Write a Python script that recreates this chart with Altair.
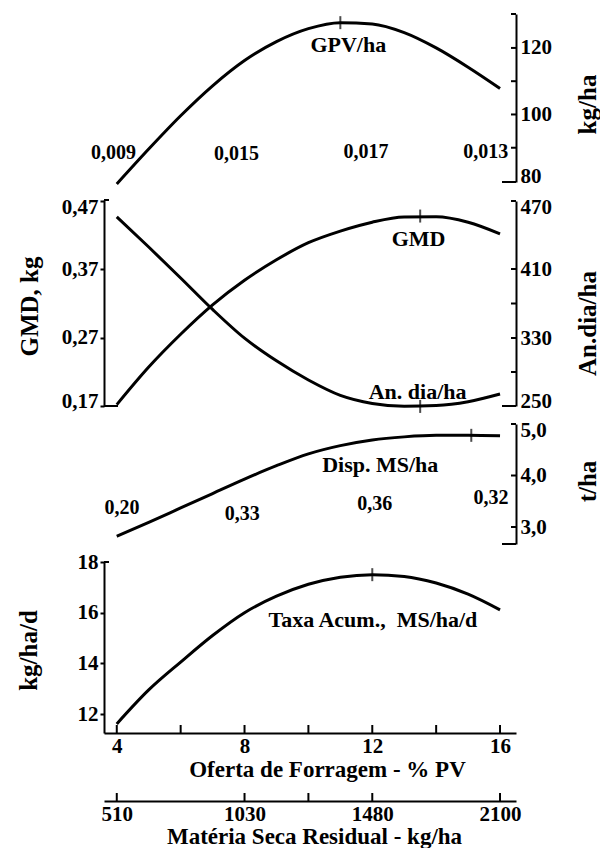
import altair as alt
import pandas as pd

# ---------------- values ----------------
OFERTA = [4, 5, 6, 7, 8, 9, 10, 11, 12, 13, 14, 15, 16]
GPV_HA = [79.1, 89.6, 99.6, 108.6, 116.2, 121.9, 125.8, 127.6, 127.2, 124.6, 120.0, 114.2, 107.8]
GMD_KG = [0.172, 0.227, 0.275, 0.318, 0.354, 0.384, 0.409, 0.426, 0.439, 0.4465, 0.447, 0.439, 0.422]
AN_DIA_HA = [456, 429.4, 399.6, 363.1, 329.8, 303.1, 280.6, 262.5, 253.0, 249.7, 250.6, 255.1, 264.1]
DISP_MS = [2.82, 3.09, 3.37, 3.65, 3.93, 4.19, 4.42, 4.58, 4.69, 4.75, 4.78, 4.78, 4.77]
TAXA_ACUM = [11.61, 12.95, 14.05, 15.1, 16.0, 16.65, 17.12, 17.40, 17.50, 17.43, 17.17, 16.73, 16.11]

# marked optimum of each curve (x, y)
GPV_OPT = (11.0, 127.6)
GMD_OPT = (13.5, 0.448)
AN_OPT = (13.5, 249.5)
DISP_OPT = (15.1, 4.78)
TAXA_OPT = (12.0, 17.50)

# ratio labels printed under the curves
GPV_RATIO = ["0,009", "0,015", "0,017", "0,013"]
GPV_RATIO_X = [3.9, 7.75, 11.8, 15.55]
GPV_RATIO_Y = [88.4, 88.2, 88.7, 88.7]
DISP_RATIO = ["0,20", "0,33", "0,36", "0,32"]
DISP_RATIO_X = [4.16, 7.93, 12.08, 15.72]
DISP_RATIO_Y = [3.37, 3.26, 3.45, 3.56]

# axes
OFERTA_TICKS = [4, 8, 12, 16]
OFERTA_MINOR = [4, 6, 8, 10, 12, 14, 16]
MS_RESIDUAL = [510, 1030, 1480, 2100]
MS_TICKS_AT = [4, 8, 10, 12, 16]
GPV_AXIS = [80, 100, 120]
GPV_TICKS = [90, 100, 110, 120]
GMD_AXIS = [0.17, 0.27, 0.37, 0.47]
AN_AXIS = [250, 330, 410, 470]
AN_TICKS = [290, 330, 370, 410]
DISP_AXIS = [3.0, 4.0, 5.0]
DISP_TICKS = [3.0, 4.0]
TAXA_AXIS = [12, 14, 16, 18]

# ---------------- layout ----------------
FONT = "Liberation Serif"
W = 412
XDOM = [3.6, 16.5]
UNIT = W / (XDOM[1] - XDOM[0])
XS = alt.Scale(domain=XDOM, nice=False, zero=False)
H1, H2, H3, H4 = 168, 206, 120, 171

S1 = alt.Scale(domain=[79.7, 130.2], nice=False, zero=False)
S2L = alt.Scale(domain=[0.17, 0.4715], nice=False, zero=False)
S2R = alt.Scale(domain=AN_AXIS, range=[206, 138, 69, 1], nice=False, zero=False)
S3 = alt.Scale(domain=[2.67, 5.0], nice=False, zero=False)
S4 = alt.Scale(domain=[11.25, 18.0], nice=False, zero=False)

R_IN = XDOM[1] - 5 / UNIT
R_LONG = XDOM[1] - 14 / UNIT
L_IN = XDOM[0] + 5 / UNIT
L_LONG = XDOM[0] + 14 / UNIT

X_NONE = alt.X("x:Q", scale=XS, axis=None)


def ychan(scale, axis=None):
    # secondary layers leave the axis to the primary layer (axis=None would drop the shared axis)
    if axis is None:
        return alt.Y("y:Q", scale=scale)
    return alt.Y("y:Q", scale=scale, axis=axis)


def curve(xs, ys, scale, axis=None):
    df = pd.DataFrame({"x": xs, "y": ys})
    return alt.Chart(df).mark_line(color="black", strokeWidth=3, interpolate="monotone").encode(
        x=X_NONE, y=ychan(scale, axis))


def texts(xs, ys, labels, scale, size=22):
    df = pd.DataFrame({"x": xs, "y": ys, "t": labels})
    return alt.Chart(df).mark_text(font=FONT, fontWeight="bold", fontSize=size, color="black").encode(
        x=X_NONE, y=ychan(scale), text="t:N")


def opt_mark(pt, scale):
    df = pd.DataFrame({"x": [pt[0]], "y": [pt[1]]})
    return alt.Chart(df).mark_tick(orient="vertical", size=13, thickness=2, color="black").encode(
        x=X_NONE, y=ychan(scale))


def segments(x1, x2, ys, scale):
    df = pd.DataFrame({"x": x1, "x2": x2, "y": ys})
    return alt.Chart(df).mark_rule(color="black", strokeWidth=2).encode(
        x=X_NONE, x2="x2:Q", y=ychan(scale))


def right_marks(ticks, top, bottom, scale):
    x1 = [R_IN] * len(ticks) + [R_IN, R_LONG]
    x2 = [XDOM[1]] * (len(ticks) + 2)
    return segments(x1, x2, list(ticks) + [top, bottom], scale)


def yaxis(orient, values, title, tx, ty, expr=None, flush=2):
    kw = dict(orient=orient, values=values, title=title, grid=False,
              ticks=(orient == "left"), tickSize=4,
              labelPadding=(2 if orient == "left" else 4),
              labelFlush=flush, labelFlushOffset=5,
              titleAngle=270, titleX=tx, titleY=ty, titleAlign="center", titleBaseline="middle")
    if expr:
        kw["labelExpr"] = expr
    return alt.Axis(**kw)


# ---------- panel 1 : GPV/ha ----------
p1 = alt.layer(
    curve(OFERTA, GPV_HA, S1, yaxis("right", GPV_AXIS, "kg/ha", 71, 90)),
    opt_mark(GPV_OPT, S1),
    texts(GPV_RATIO_X, GPV_RATIO_Y, GPV_RATIO, S1, size=20),
    texts([11.25], [121.0], ["GPV/ha"], S1),
    right_marks(GPV_TICKS, 130.2, 79.7, S1),
).properties(width=W, height=H1)

# ---------- panel 2 : GMD and An.dia/ha ----------
gmd_group = alt.layer(
    curve(OFERTA, GMD_KG, S2L, yaxis("left", GMD_AXIS, "GMD, kg", -75, 106,
                                     "replace(format(datum.value, '.2f'), '.', ',')")),
    opt_mark(GMD_OPT, S2L),
    texts([13.45, 13.42], [0.4137, 0.1898], ["GMD", "An. dia/ha"], S2L),
    segments([XDOM[0], XDOM[0]], [L_IN, L_LONG], [0.4715, 0.17], S2L),
)
an_group = alt.layer(
    curve(OFERTA, AN_DIA_HA, S2R, yaxis("right", AN_AXIS, "An.dia/ha", 71, 123)),
    opt_mark(AN_OPT, S2R),
    right_marks(AN_TICKS, 470, 250, S2R),
)
p2 = alt.layer(gmd_group, an_group).resolve_scale(y="independent").properties(width=W, height=H2)

# ---------- panel 3 : Disp. MS/ha ----------
p3 = alt.layer(
    curve(OFERTA, DISP_MS, S3, yaxis("right", DISP_AXIS, "t/ha", 71, 57,
                                     "replace(format(datum.value, '.1f'), '.', ',')")),
    opt_mark(DISP_OPT, S3),
    texts(DISP_RATIO_X, DISP_RATIO_Y, DISP_RATIO, S3, size=20),
    texts([12.25], [4.2], ["Disp. MS/ha"], S3),
    right_marks(DISP_TICKS, 5.0, 2.67, S3),
).properties(width=W, height=H3)

# ---------- panel 4 : Taxa Acum. + x axes ----------
x_main = alt.Axis(orient="bottom", values=OFERTA_TICKS, ticks=False, labelPadding=2, grid=False,
                  labelFlush=False, title="Oferta de Forragem - % PV", titleFontSize=23,
                  titleX=223, titleY=36, titleAlign="center", titleBaseline="middle")
ms_expr = " : ".join(f"datum.value == {o} ? '{m}'" for o, m in zip(OFERTA_TICKS, MS_RESIDUAL)) + " : ''"
x_ms = alt.Axis(orient="bottom", offset=68, values=OFERTA_TICKS, labelExpr=ms_expr, ticks=False,
                labelPadding=2, grid=False, labelFlush=False, title="Matéria Seca Residual - kg/ha",
                titleFontSize=23, titleX=210, titleY=35, titleAlign="center", titleBaseline="middle")

taxa_line = alt.Chart(pd.DataFrame({"x": OFERTA, "y": TAXA_ACUM})).mark_line(
    color="black", strokeWidth=3, interpolate="monotone").encode(
    x=alt.X("x:Q", scale=XS, axis=x_main),
    y=alt.Y("y:Q", scale=S4, axis=yaxis("left", TAXA_AXIS, "kg/ha/d", -76, 88, flush=False)))

main_ticks = alt.Chart(pd.DataFrame({"x": OFERTA_MINOR})).mark_rule(color="black", strokeWidth=2).encode(
    x=X_NONE, y=alt.value(H4), y2=alt.value(H4 - 8))
ms_ticks = alt.Chart(pd.DataFrame({"x": MS_TICKS_AT})).mark_rule(color="black", strokeWidth=2).encode(
    x=alt.X("x:Q", scale=XS, axis=x_ms), y=alt.value(H4 + 68), y2=alt.value(H4 + 60))

p4 = alt.layer(
    taxa_line,
    opt_mark(TAXA_OPT, S4),
    texts([12.02], [15.71], ["Taxa Acum.,\u00a0 MS/ha/d"], S4),
    segments([XDOM[0]], [L_IN], [18.0], S4),
    main_ticks,
    ms_ticks,
).resolve_axis(x="independent").properties(width=W, height=H4)

chart = alt.vconcat(p1, p2, p3, p4, spacing=18, bounds="flush").properties(
    padding={"left": 8, "top": 5, "right": 0, "bottom": 0}
).configure_view(stroke=None).configure_axis(
    labelFont=FONT, labelFontWeight="bold", labelFontSize=21, labelColor="black",
    titleFont=FONT, titleFontWeight="bold", titleFontSize=25, titleColor="black",
    domainColor="black", domainWidth=2, tickColor="black", tickWidth=2,
)

chart.save("out.html", embed_options={"renderer": "svg", "actions": False})
